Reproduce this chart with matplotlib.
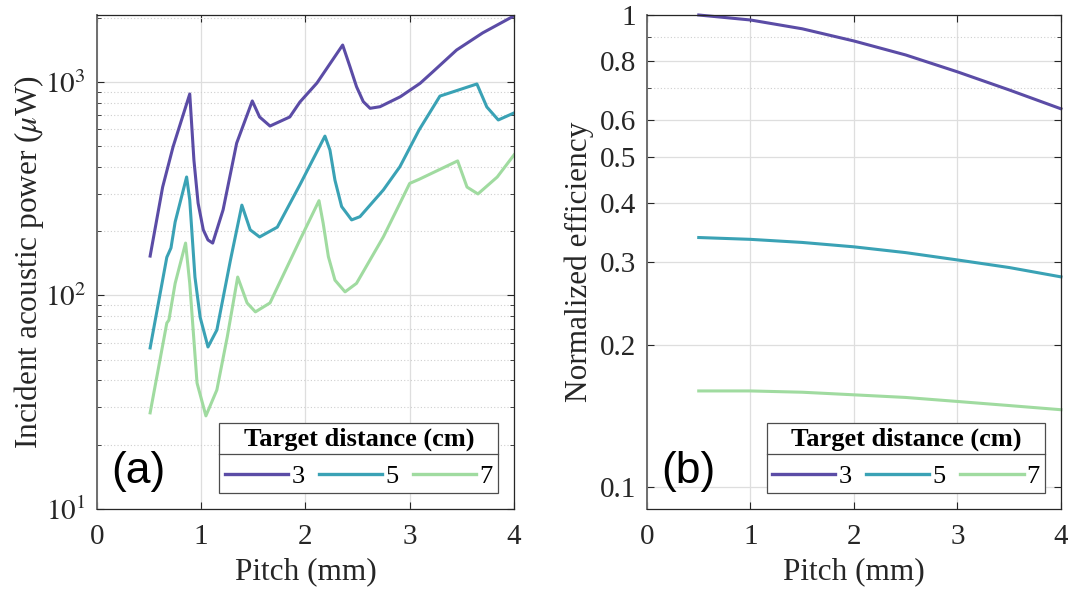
import numpy as np
import matplotlib
matplotlib.use("Agg")
import matplotlib.pyplot as plt
from matplotlib.lines import Line2D
from matplotlib.ticker import FixedLocator, NullFormatter

plt.rcParams['font.family'] = ['Liberation Serif', 'DejaVu Serif']
plt.rcParams['mathtext.fontset'] = 'stix'

distances = ['3', '5', '7']
colors = ['#5b4ca6', '#3aa2b5', '#a0dba0']

# (a) incident acoustic power vs pitch
pitch_3 = [0.51, 0.63, 0.73, 0.89, 0.93, 0.97, 1.02, 1.065, 1.11, 1.21, 1.34, 1.49,
           1.56, 1.66, 1.85, 1.947, 2.11, 2.357, 2.427, 2.49, 2.555, 2.62, 2.715,
           2.91, 3.10, 3.22, 3.45, 3.70, 4.0]
power_3 = [153, 322, 497, 879, 431, 271, 203, 182, 176, 252, 517, 815,
           686, 622, 686, 806, 989, 1490, 1180, 951, 809, 753, 766,
           853, 986, 1114, 1412, 1698, 2040]

pitch_5 = [0.51, 0.67, 0.71, 0.75, 0.86, 0.89, 0.94, 0.99, 1.065, 1.15, 1.28, 1.39,
           1.47, 1.56, 1.73, 1.947, 2.187, 2.235, 2.283, 2.347, 2.443, 2.523, 2.747,
           2.906, 3.09, 3.29, 3.645, 3.74, 3.85, 4.0]
power_5 = [56.8, 151, 167, 221, 359, 280, 122, 79, 57.4, 68.9, 146, 265,
           203, 188, 209, 330, 558, 480, 347, 261, 226, 234, 312,
           401, 596, 859, 979, 764, 664, 716]

pitch_7 = [0.51, 0.67, 0.69, 0.75, 0.85, 0.89, 0.96, 1.045, 1.15, 1.25, 1.35, 1.44,
           1.52, 1.66, 1.947, 2.13, 2.17, 2.22, 2.283, 2.38, 2.49, 2.747, 2.906,
           3.0, 3.09, 3.46, 3.55, 3.655, 3.84, 4.0]
power_7 = [28.2, 74.3, 76.7, 114, 176, 114, 38.9, 27.3, 36.1, 64, 122, 92.3,
           83.8, 92.3, 182, 278, 218, 152, 118, 104, 114, 188, 270,
           335, 350, 427, 322, 299, 359, 455]

# (b) normalized efficiency vs pitch
pitch_eff = [0.5, 1.0, 1.5, 2.0, 2.5, 3.0, 3.5, 4.0]
eff_3 = [1.0, 0.976, 0.935, 0.881, 0.823, 0.758, 0.694, 0.633]
eff_5 = [0.338, 0.335, 0.330, 0.323, 0.314, 0.303, 0.292, 0.279]
eff_7 = [0.160, 0.160, 0.159, 0.157, 0.155, 0.152, 0.149, 0.146]

x_ticks = [0, 1, 2, 3, 4]
eff_ticks = [0.1, 0.2, 0.3, 0.4, 0.5, 0.6, 0.8, 1]
eff_labels = ['0.1', '0.2', '0.3', '0.4', '0.5', '0.6', '0.8', '1']

axc = '#262626'
fs_lab = 22.5
fs_tick = 21

fig = plt.figure(figsize=(10.68, 5.93), dpi=100)
ax1 = fig.add_axes([0.0908, 0.1417, 0.3904, 0.833])
ax2 = fig.add_axes([0.6058, 0.1417, 0.3876, 0.833])

for x, y, c in zip([pitch_3, pitch_5, pitch_7], [power_3, power_5, power_7], colors):
    ax1.plot(x, y, color=c, lw=2.2, solid_joinstyle='round')
for y, c in zip([eff_3, eff_5, eff_7], colors):
    ax2.plot(pitch_eff, y, color=c, lw=2.2, clip_on=False)

ax1.set_yscale('log')
ax1.set_ylim(10, 2060)
ax1.set_yticks([10, 100, 1000])
ax1.set_yticklabels([r'$10^1$', r'$10^2$', r'$10^3$'])
ax1.set_ylabel(r'Incident acoustic power ($\mu$W)', fontsize=fs_lab, color=axc,
               labelpad=-1)

ax2.set_yscale('log')
ax2.set_ylim(0.09, 1)
ax2.yaxis.set_major_locator(FixedLocator(eff_ticks))
ax2.set_yticklabels(eff_labels)
ax2.yaxis.set_minor_locator(FixedLocator([0.7, 0.9]))
ax2.yaxis.set_minor_formatter(NullFormatter())
ax2.set_ylabel('Normalized efficiency', fontsize=fs_lab, color=axc, labelpad=4)

for ax, tag in zip([ax1, ax2], ['(a)', '(b)']):
    ax.set_xlim(0, 4)
    ax.set_xticks(x_ticks)
    ax.set_xlabel('Pitch (mm)', fontsize=fs_lab, color=axc, labelpad=5)
    ax.tick_params(which='both', direction='in', top=True, right=True,
                   labelsize=fs_tick, colors=axc, pad=8)
    ax.tick_params(axis='x', which='major', pad=11)
    ax.tick_params(which='major', length=5, width=0.8)
    ax.tick_params(which='minor', length=3, width=0.6)
    ax.tick_params(axis='x', which='minor', bottom=False, top=False)
    ax.grid(which='major', color='#dedede', lw=0.9)
    ax.grid(which='minor', axis='y', color='#cfcfcf', lw=0.8, ls=(0, (1, 2)))
    ax.set_axisbelow(True)
    for s in ax.spines.values():
        s.set_color(axc)
        s.set_linewidth(0.9)
    ax.spines['left'].set_color('#6e6e6e')
    ax.spines['left'].set_linewidth(1.4)
    ax.text(0.035, 0.035, tag, transform=ax.transAxes, fontsize=32,
            family='Liberation Sans', color='black', ha='left', va='bottom')

legs = []
for ax in [ax1, ax2]:
    handles = [Line2D([], [], color=c, lw=2.4) for c in colors]
    leg = ax.legend(handles, distances, ncol=3, loc='lower right',
                    bbox_to_anchor=(0.962, 0.032), borderaxespad=0,
                    title='Target distance (cm)',
                    title_fontproperties={'weight': 'bold', 'size': 19},
                    fontsize=19, handlelength=2.4, handletextpad=0.12,
                    columnspacing=0.55, borderpad=0.2, fancybox=False,
                    framealpha=1, edgecolor='#4d4d4d')
    leg.get_frame().set_linewidth(0.9)
    legs.append(leg)

# separator between the legend title and its entries
fig.canvas.draw()
W, H = fig.bbox.width, fig.bbox.height
for leg in legs:
    box = leg.get_window_extent()
    tb = leg.get_title().get_window_extent()
    y = tb.y0 - 3
    fig.add_artist(Line2D([box.x0 / W, box.x1 / W], [y / H, y / H],
                          transform=fig.transFigure, color='#4d4d4d', lw=0.9))

fig.savefig('out.png', dpi=100)
